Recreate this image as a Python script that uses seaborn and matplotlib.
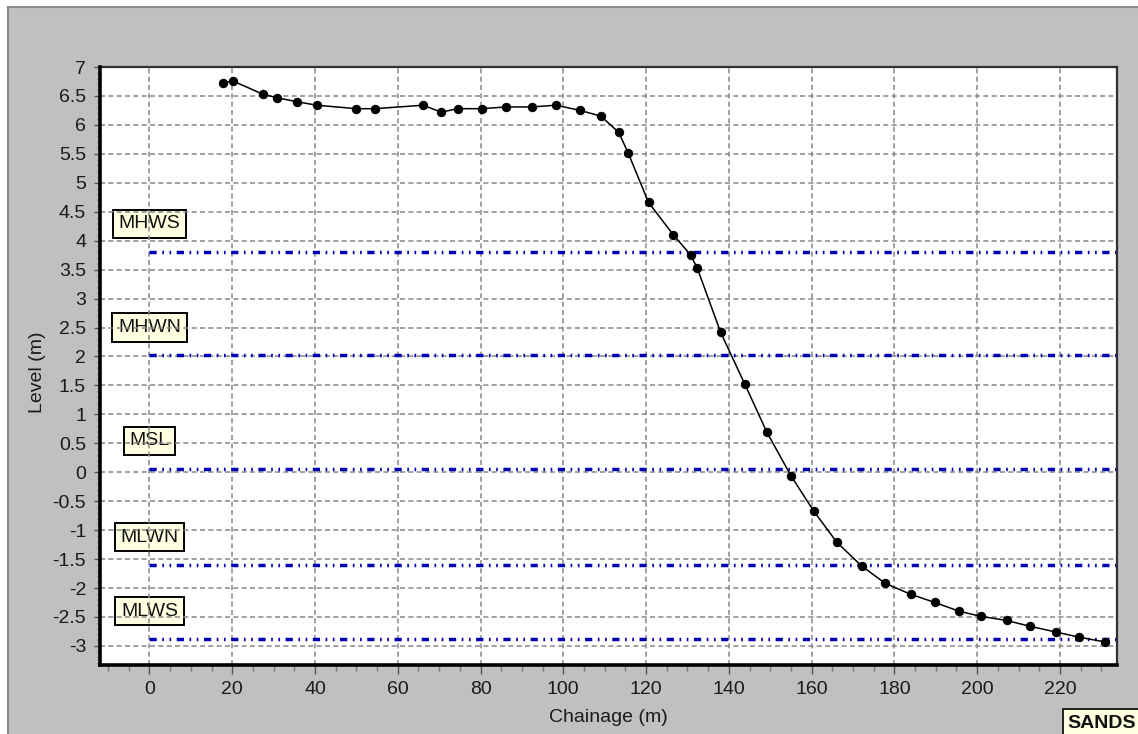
import matplotlib
matplotlib.use("Agg")
import matplotlib.pyplot as plt
import seaborn as sns
import pandas as pd
from matplotlib.patches import Rectangle
from matplotlib.ticker import MultipleLocator, FuncFormatter

# ---- data ----
chainage = [17.8, 20.1, 27.4, 30.8, 35.6, 40.4, 50.0, 54.5, 66.1, 70.5, 74.5, 80.3,
            86.2, 92.4, 98.2, 104.1, 109.1, 113.4, 115.7, 120.6, 126.6, 130.8, 132.4,
            138.0, 143.8, 149.2, 155.0, 160.5, 166.1, 172.1, 177.8, 184.0, 189.8,
            195.6, 200.9, 207.1, 212.7, 219.0, 224.7, 230.8]
level = [6.72, 6.76, 6.53, 6.47, 6.40, 6.34, 6.28, 6.28, 6.34, 6.22, 6.28, 6.28,
         6.31, 6.31, 6.34, 6.25, 6.15, 5.87, 5.51, 4.66, 4.10, 3.75, 3.52,
         2.42, 1.53, 0.69, -0.06, -0.67, -1.21, -1.62, -1.92, -2.11, -2.25,
         -2.40, -2.49, -2.56, -2.66, -2.76, -2.85, -2.93]
tide_names = ["MHWS", "MHWN", "MSL", "MLWN", "MLWS"]
tide_levels = [3.81, 2.02, 0.06, -1.60, -2.88]
site_name = "SANDS"

df = pd.DataFrame({"Chainage": chainage, "Level": level})

sns.set_style("white")
plt.rcParams["font.family"] = ["Liberation Sans", "DejaVu Sans"]
plt.rcParams["axes.unicode_minus"] = False
plt.rcParams["lines.scale_dashes"] = False

W, H = 1138, 734
fig = plt.figure(figsize=(W / 100, H / 100), dpi=100, facecolor="white")
fig.patches.append(Rectangle((8 / W, -0.01), 1.0, 1 - 7 / H + 0.01,
                             transform=fig.transFigure, facecolor="#c0c0c0",
                             edgecolor="#8a8a8a", lw=1.5, zorder=-10))

ax = fig.add_axes([100 / W, 1 - 665 / H, (1117 - 100) / W, (665 - 67) / H])
ax.set_facecolor("white")
ax.set_axisbelow(True)

FS = 14

# tide level lines
xmax = 233.8
ax.hlines(tide_levels, 0, xmax, colors="#0000b4", linewidth=2.5,
          linestyles=[(0, (5.2, 4.0, 1.2, 4.0, 1.2, 4.0))], zorder=2)
for name, lv in zip(tide_names, tide_levels):
    ax.text(0, lv + 0.48, name, ha="center", va="center", fontsize=FS, color="#111111",
            zorder=0.3,
            bbox=dict(boxstyle="square,pad=0.3", facecolor="#ffffe1",
                      edgecolor="black", linewidth=1.4))

# profile
sns.lineplot(data=df, x="Chainage", y="Level", ax=ax, color="black", linewidth=1.1,
             marker="o", markersize=6, markeredgecolor="black", zorder=5)

ax.set_xlim(-11.96, xmax)
ax.set_ylim(-3.33, 7)

ax.xaxis.set_major_locator(MultipleLocator(20))
ax.xaxis.set_minor_locator(MultipleLocator(5))
ax.yaxis.set_major_locator(MultipleLocator(0.5))
ax.yaxis.set_minor_locator(MultipleLocator(0.1))
ax.yaxis.set_major_formatter(FuncFormatter(lambda v, p: f"{v:g}"))
ax.xaxis.set_major_formatter(FuncFormatter(lambda v, p: f"{v:g}"))

ax.grid(True, which="major", color="#888888", linestyle=(0, (3.6, 2.4)), linewidth=1.1)

ax.tick_params(axis="x", which="major", direction="out", length=6.5, width=1.0,
               color="#555555", labelsize=FS, pad=5, bottom=True)
ax.tick_params(axis="x", which="minor", direction="out", length=4.3, width=1.0,
               color="#777777", bottom=True)
ax.tick_params(axis="y", which="major", direction="out", length=4, width=1.0,
               color="#555555", labelsize=FS, pad=6, left=True)
ax.tick_params(axis="y", which="minor", direction="out", length=2.2, width=0.8,
               color="#777777", left=True)
for lab in ax.get_xticklabels() + ax.get_yticklabels():
    lab.set_color("#1a1a1a")

for side in ["left", "bottom"]:
    ax.spines[side].set_linewidth(2.6)
    ax.spines[side].set_color("black")
for side in ["top", "right"]:
    ax.spines[side].set_linewidth(1.6)
    ax.spines[side].set_color("#303030")
ax.spines["left"].set_zorder(6)
ax.spines["bottom"].set_zorder(6)

ax.set_xlabel("Chainage (m)", fontsize=FS, color="#1a1a1a")
ax.set_ylabel("Level (m)", fontsize=FS, color="#1a1a1a")
ax.xaxis.set_label_coords(0.4995, -0.0886)
ax.xaxis.label.set_va("center")
ax.yaxis.set_label_coords(-0.061, 0.49)
ax.yaxis.label.set_va("center")

# site name box at bottom right
fig.patches.append(Rectangle((1063 / W, -0.01), 0.2, (734 - 709) / H + 0.01,
                             transform=fig.transFigure, facecolor="#ffffe1",
                             edgecolor="black", lw=1.2, zorder=-5))
fig.text(1102 / W, 1 - 723 / H, site_name, ha="center", va="center",
         fontsize=FS, fontweight="bold", color="#111111")

fig.savefig("out.png", dpi=100, facecolor=fig.get_facecolor())
